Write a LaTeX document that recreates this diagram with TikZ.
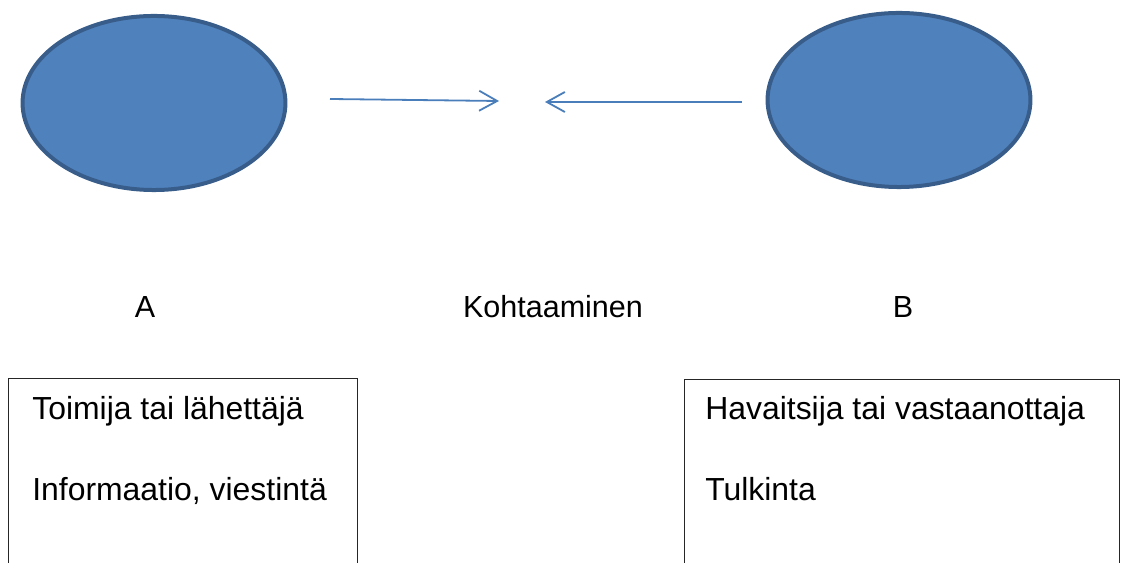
\documentclass[tikz,border=0pt]{standalone}
\usepackage{fontspec}
\setmainfont{Liberation Sans}
\usetikzlibrary{
  shapes.geometric,
  arrows.meta,
  positioning
}
\definecolor{blobfill}{HTML}{4F81BD}
\definecolor{blobline}{HTML}{385D8A}
\definecolor{arrowblue}{HTML}{4A7EBB}

\begin{document}
\begin{tikzpicture}[x=0.025cm, y=-0.025cm,
  blob/.style={ellipse, fill=blobfill, draw=blobline, line width=0.1cm, minimum width=6.57cm, minimum height=4.35cm},
  conn/.style={draw=arrowblue, line width=0.045cm, -{Straight Barb[length=0.45cm, width=0.5cm, line width=0.045cm]}},
  frame/.style={draw=black!85, line width=0.025cm},
  lbl/.style={font=\fontsize{21.7pt}{26pt}\selectfont, inner sep=0pt},
  boxtxt/.style={font=\fontsize{22.7pt}{27pt}\selectfont, inner sep=0pt, anchor=base west},
  every node/.append style={inner sep=0pt}]
\useasboundingbox (0,0) rectangle (1126,563);
\clip (0,0) rectangle (1126,563);
% the two parties
\node[blob] (A) at (154,103) {};
\node[blob] (B) at (899,100) {};
% arrows towards the meeting point
\coordinate (A out) at (330,99);
\coordinate (M left) at (499,101);
\coordinate (B out) at (742,102);
\coordinate (M right) at (545,102);
\draw[conn] (A out) -- (M left);
\draw[conn] (B out) -- (M right);
% labels
\node[lbl, anchor=base] (LA) at (145,318) {A};
\node[lbl, anchor=base] (LM) at (553,318) {Kohtaaminen};
\node[lbl, anchor=base] (LB) at (903,318) {B};
% boxes, cut off at the bottom
\draw[frame] (8,379) rectangle (357,620);
\draw[frame] (684,380) rectangle (1119,620);
\node[boxtxt] (A1) at (32,420) {Toimija tai lähettäjä};
\node[boxtxt] (A2) at (32,501) {Informaatio, viestintä};
\node[boxtxt] (B1) at (705,420) {Havaitsija tai vastaanottaja};
\node[boxtxt] (B2) at (705,501) {Tulkinta};
\end{tikzpicture}
\end{document}
